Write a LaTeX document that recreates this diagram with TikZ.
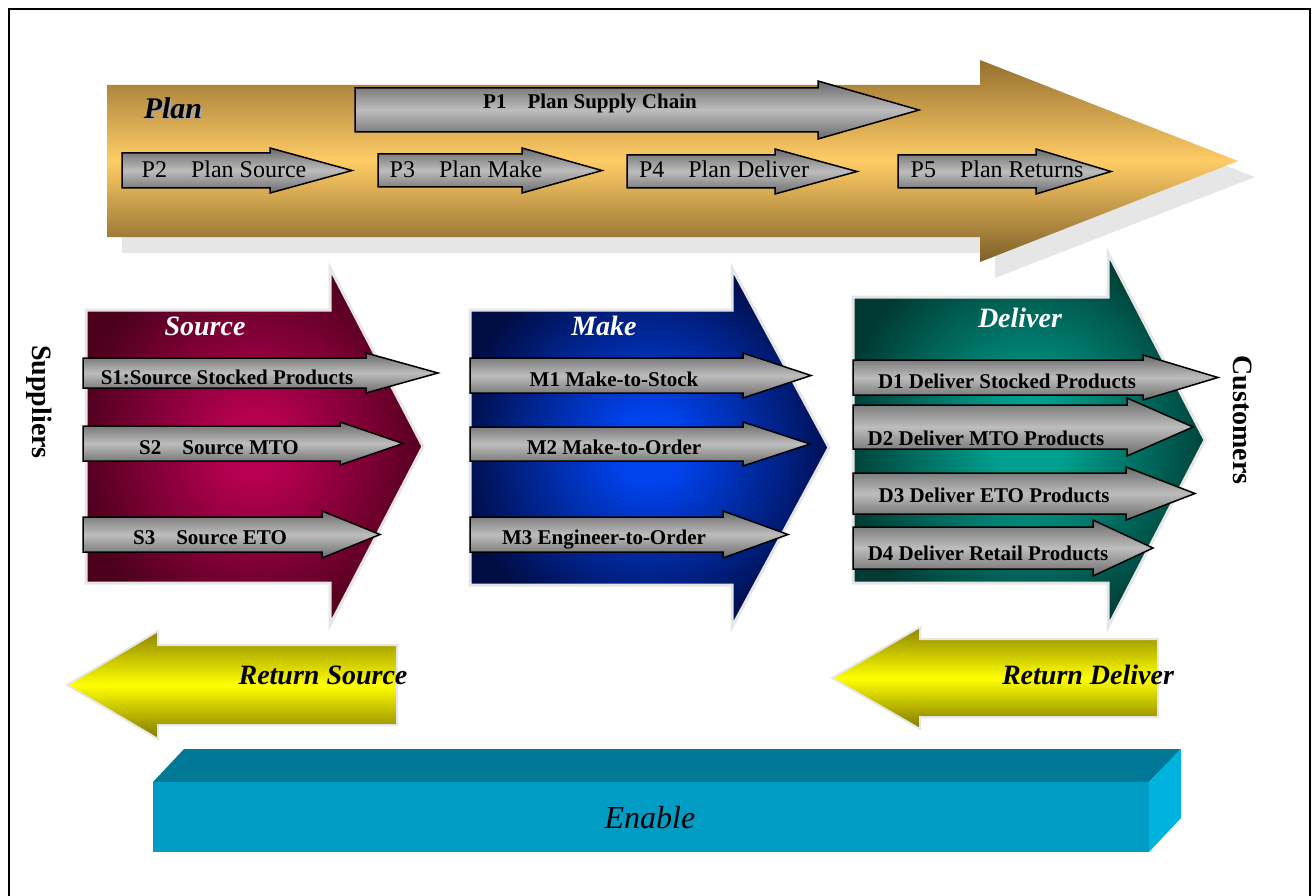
\documentclass[tikz,border=0pt]{standalone}
\usepackage{fontspec}
\setmainfont{Liberation Serif}
\usepackage{tikz}

\definecolor{plandark}{HTML}{94702F}
\definecolor{planlight}{HTML}{FFCC66}
\definecolor{srcdark}{HTML}{4C001C}
\definecolor{srclight}{HTML}{B4004F}
\definecolor{makedark}{HTML}{000C44}
\definecolor{makelight}{HTML}{0042EC}
\definecolor{deldark}{HTML}{003A32}
\definecolor{dellight}{HTML}{00A08E}
\definecolor{subdark}{HTML}{6A6A6A}
\definecolor{sublight}{HTML}{BDBDBD}
\definecolor{retdark}{HTML}{8C8400}
\definecolor{retlight}{HTML}{FFFF00}
\definecolor{enfront}{HTML}{009CC3}
\definecolor{entop}{HTML}{007896}
\definecolor{enside}{HTML}{00B2DE}
\definecolor{shadowgray}{HTML}{E6E6E6}

% glow of the three process blocks
\pgfdeclareradialshading{sourceglow}{\pgfpoint{0bp}{0bp}}{color(0bp)=(srclight); color(5bp)=(srclight); color(27bp)=(srcdark); color(50bp)=(srcdark)}
\pgfdeclareradialshading{makeglow}{\pgfpoint{0bp}{0bp}}{color(0bp)=(makelight); color(5bp)=(makelight); color(27bp)=(makedark); color(50bp)=(makedark)}
\pgfdeclareradialshading{deliverglow}{\pgfpoint{0bp}{0bp}}{color(0bp)=(dellight); color(5bp)=(dellight); color(27bp)=(deldark); color(50bp)=(deldark)}

% block arrow: start x, top y, bottom y, head base x, head extend, tip x
\newcommand{\blockarrow}[7][]{%
  \path[#1] (#2,#3) -- (#5,#3) -- (#5,#3-#6) -- (#7,{(#3+#4)/2})
    -- (#5,#4+#6) -- (#5,#4) -- (#2,#4) -- cycle;}

\tikzset{
  subarrow/.style={draw=black, line width=1.5pt, top color=subdark, bottom color=subdark, middle color=sublight},
  planlabel/.style={font=\fontsize{24}{26}\selectfont, inner sep=0pt, text height=16pt, text depth=0pt},
  steplabel/.style={font=\bfseries\fontsize{21}{23}\selectfont, inner sep=0pt, text height=14pt, text depth=0pt},
  blocktitle/.style={font=\bfseries\itshape\fontsize{28}{30}\selectfont, text=white, inner sep=0pt, text height=19pt, text depth=0pt},
  returnlabel/.style={font=\bfseries\itshape\fontsize{28}{30}\selectfont, inner sep=0pt, text height=19pt, text depth=0pt},
  sidelabel/.style={font=\bfseries\fontsize{28}{30}\selectfont, rotate=-90, inner sep=0pt},
}

\begin{document}
\begin{tikzpicture}[x=1pt, y=-1pt]
  \useasboundingbox (0,0) rectangle (1314,896);
  \draw[line width=2pt] (9,9) rectangle (1310,905);

  % plan
  \blockarrow[fill=shadowgray]{122}{101}{253}{995}{25}{1255}
  \blockarrow[top color=plandark, bottom color=plandark!85!black, middle color=planlight]{107}{85}{237}{980}{25}{1238}
  \node[font=\bfseries\itshape\fontsize{30}{32}\selectfont, text=gray!70, inner sep=0pt] (plan-shadow) at (175,110) {Plan};
  \node[font=\bfseries\itshape\fontsize{30}{32}\selectfont, inner sep=0pt] (plan) at (173,108) {Plan};

  \blockarrow[subarrow]{355}{88}{132}{818}{7}{919}
  \blockarrow[subarrow]{122}{153}{188}{270}{5}{352}
  \blockarrow[subarrow]{378}{154}{187}{522}{6}{602}
  \blockarrow[subarrow]{627}{155}{188}{775}{6}{857}
  \blockarrow[subarrow]{898}{155}{188}{1036}{6}{1111}
  \node[steplabel] (p1) at (590,102) {P1\quad Plan Supply Chain};
  \node[planlabel] (p2) at (224,170) {P2\quad Plan Source};
  \node[planlabel] (p3) at (466,170) {P3\quad Plan Make};
  \node[planlabel] (p4) at (724,170) {P4\quad Plan Deliver};
  \node[planlabel] (p5) at (997,170) {P5\quad Plan Returns};

  % source, make, deliver
  \blockarrow[shade, shading=sourceglow, draw=shadowgray, line width=3pt]{86}{310}{583}{330}{42}{423}
  \blockarrow[shade, shading=makeglow, draw=shadowgray, line width=3pt]{470}{310}{585}{732}{42}{829}
  \blockarrow[shade, shading=deliverglow, draw=shadowgray, line width=3pt]{853}{297}{583}{1108}{44}{1205}
  \node[blocktitle] (source) at (205,326) {Source};
  \node[blocktitle] (make) at (604,326) {Make};
  \node[blocktitle] (deliver) at (1020,318) {Deliver};

  \blockarrow[subarrow]{83}{358}{388}{366}{5}{438}
  \blockarrow[subarrow]{83}{426}{461}{340}{4}{403}
  \blockarrow[subarrow]{83}{517}{552}{322}{6}{380}
  \node[steplabel] (s1) at (227,377) {S1:Source Stocked Products};
  \node[steplabel] (s2) at (219,447) {S2\quad Source MTO};
  \node[steplabel] (s3) at (210,537) {S3\quad Source ETO};

  \blockarrow[subarrow]{470}{358}{393}{743}{5}{811}
  \blockarrow[subarrow]{470}{427}{461}{743}{5}{810}
  \blockarrow[subarrow]{470}{517}{552}{723}{6}{788}
  \node[steplabel] (m1) at (614,379) {M1 Make-to-Stock};
  \node[steplabel] (m2) at (614,447) {M2 Make-to-Order};
  \node[steplabel] (m3) at (604,537) {M3 Engineer-to-Order};

  \blockarrow[subarrow]{853}{360}{395}{1143}{5}{1218}
  \blockarrow[subarrow]{853}{405}{449}{1127}{7}{1193}
  \blockarrow[subarrow]{853}{473}{514}{1126}{6}{1195}
  \blockarrow[subarrow]{853}{527}{569}{1093}{7}{1153}
  \node[steplabel] (d1) at (1007,381) {D1 Deliver Stocked Products};
  \node[steplabel] (d2) at (986,438) {D2 Deliver MTO Products};
  \node[steplabel] (d3) at (994,495) {D3 Deliver ETO Products};
  \node[steplabel] (d4) at (988,553) {D4 Deliver Retail Products};

  % returns
  \blockarrow[draw=shadowgray, line width=2pt, top color=retdark, bottom color=retdark!90!black, middle color=retlight]{397}{645}{725}{158}{14}{67}
  \blockarrow[draw=shadowgray, line width=2pt, top color=retdark, bottom color=retdark!90!black, middle color=retlight]{1158}{639}{717}{920}{12}{832}
  \node[returnlabel] (retsrc) at (323,675) {Return Source};
  \node[returnlabel] (retdel) at (1088,675) {Return Deliver};

  % enable
  \fill[entop] (153,782) -- (184,749) -- (1181,749) -- (1149,782) -- cycle;
  \fill[enside] (1149,782) -- (1181,749) -- (1181,818) -- (1149,852) -- cycle;
  \fill[enfront] (153,782) rectangle (1149,852);
  \node[font=\itshape\fontsize{32}{34}\selectfont, inner sep=0pt] (enable) at (650,818) {Enable};

  \node[sidelabel] (suppliers) at (39,402) {Suppliers};
  \node[sidelabel] (customers) at (1243,420) {Customers};
\end{tikzpicture}
\end{document}
